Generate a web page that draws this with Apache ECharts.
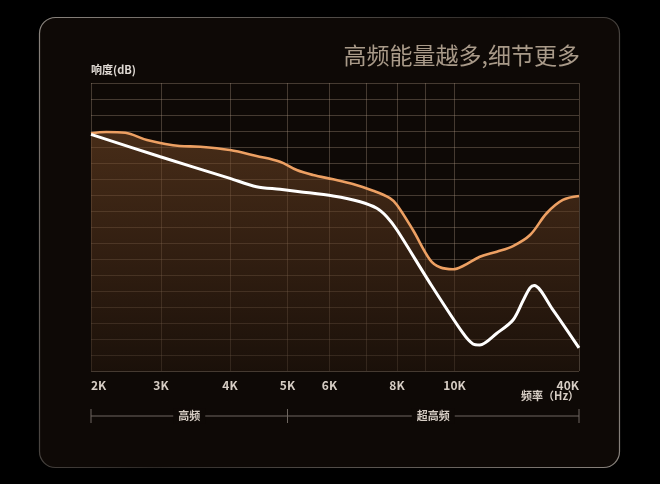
<!DOCTYPE html>
<html>
<head>
<meta charset="utf-8">
<script src="https://cdn.jsdelivr.net/npm/echarts@6/dist/echarts.min.js"></script>
<style>
  html, body { margin: 0; padding: 0; background: #000; }
  #main { width: 660px; height: 484px; }
</style>
</head>
<body>
<div id="main"></div>
<script>
// 频率刻度 (kHz) 与标签
const TICK_KHZ = [2, 3, 4, 5, 6, 7, 8, 9, 10, 40]
const TICK_LABELS = ['2K', '3K', '4K', '5K', '6K', '', '8K', '', '10K', '40K']

// 频段划分
const BAND_EDGES = [2, 5, 40]
const BAND_NAMES = ['高频', '超高频']

// 橙色曲线（kHz, 格数）
const ORANGE_KHZ = [2.0, 2.22, 2.49, 2.8, 3.27, 3.57, 4.0, 4.46, 4.87, 5.22, 5.61, 6.1, 6.64, 7.23, 7.77, 8.0, 8.56, 9.16, 9.5, 9.95, 12.05, 16.1, 20.2, 24.1, 28.2, 32.2, 36.1, 40]
const ORANGE_LEVEL = [14.86, 14.94, 14.89, 14.44, 14.06, 14.02, 13.81, 13.44, 13.08, 12.56, 12.25, 11.98, 11.69, 11.27, 10.81, 10.38, 8.81, 6.94, 6.48, 6.36, 6.56, 7.14, 7.46, 7.81, 8.5, 9.86, 10.69, 10.94]

// 白色曲线（kHz, 格数）
const WHITE_KHZ = [2.0, 2.99, 4.0, 4.46, 4.87, 5.29, 6.1, 6.84, 7.35, 7.67, 8.0, 9.16, 12.05, 14.46, 16.1, 20.2, 24.1, 26.6, 28.2, 29.2, 33.5, 40]
const WHITE_LEVEL = [14.79, 13.39, 12.04, 11.52, 11.36, 11.21, 10.94, 10.58, 10.17, 9.64, 8.81, 5.48, 2.36, 1.69, 1.63, 2.36, 3.19, 4.44, 5.19, 5.34, 3.9, 1.44]

// 横轴的非均匀刻度：每个频率刻度在轴上的位置
const TICK_POS = [0, 70, 139, 196.5, 238.5, 275, 306, 334.5, 363.5, 488]

const toPos = (k) => {
    for (let i = 0; i < TICK_KHZ.length - 1; i++) {
        if (k <= TICK_KHZ[i + 1]) {
            const t = (k - TICK_KHZ[i]) / (TICK_KHZ[i + 1] - TICK_KHZ[i])
            return TICK_POS[i] + t * (TICK_POS[i + 1] - TICK_POS[i])
        }
    }
    return TICK_POS[TICK_POS.length - 1]
}
const labelAt = (pos) => {
    const i = TICK_POS.findIndex(p => Math.abs(p - pos) < 0.01)
    return i >= 0 ? TICK_LABELS[i] : ''
}

const FONT = '"Noto Sans CJK SC", "Noto Sans", sans-serif'
const CARD_BG = '#0e0906'
const gridColor = 'rgba(175,155,135,0.34)'

const chart = echarts.init(document.getElementById('main'))

const option = {
    backgroundColor: '#000',
    animation: false,
    grid: {
        left: 91,
        right: 81,
        top: 83,
        bottom: 113
    },
    xAxis: {
        type: 'value',
        min: 0,
        max: 488,
        axisLine: { show: false },
        axisTick: { show: false, customValues: TICK_POS },
        splitLine: {
            show: true,
            lineStyle: { color: gridColor, width: 1 }
        },
        axisLabel: {
            customValues: TICK_POS,
            formatter: (v) => labelAt(v),
            color: '#d6cdc4',
            fontSize: 12,
            fontWeight: 'bold',
            fontFamily: FONT,
            margin: 8,
            alignMinLabel: 'left',
            alignMaxLabel: 'right'
        }
    },
    yAxis: {
        type: 'value',
        min: 0,
        max: 18,
        interval: 1,
        axisLine: { show: false },
        axisTick: { show: false },
        axisLabel: { show: false },
        splitLine: {
            lineStyle: { color: gridColor, width: 1 }
        }
    },
    series: [
        {
            name: 'orange',
            type: 'line',
            smooth: 0.35,
            showSymbol: false,
            z: 3,
            lineStyle: { color: '#eda063', width: 2.6 },
            areaStyle: {
                color: new echarts.graphic.LinearGradient(0, 0, 0, 1, [
                    { offset: 0, color: 'rgba(116,72,38,0.8)' },
                    { offset: 0.5, color: 'rgba(82,50,27,0.76)' },
                    { offset: 1, color: 'rgba(36,22,12,0.8)' }
                ])
            },
            data: ORANGE_KHZ.map((k, i) => [toPos(k), ORANGE_LEVEL[i]])
        },
        {
            name: 'white',
            type: 'line',
            smooth: 0.3,
            showSymbol: false,
            z: 4,
            lineStyle: { color: '#ffffff', width: 3 },
            data: WHITE_KHZ.map((k, i) => [toPos(k), WHITE_LEVEL[i]])
        }
    ]
}

chart.setOption(option)

// 卡片、标题、频段标注
const px = (k) => chart.convertToPixel({ xAxisIndex: 0 }, toPos(k))
const bandY = 416
const graphics = [
    {
        type: 'rect',
        z: -10,
        shape: { x: 39.5, y: 17.5, width: 580, height: 450, r: 16 },
        style: {
            fill: CARD_BG,
            stroke: new echarts.graphic.LinearGradient(0, 0, 1, 1, [
                { offset: 0, color: '#8a847e' },
                { offset: 0.5, color: '#2e2a27' },
                { offset: 1, color: '#8a847e' }
            ]),
            lineWidth: 1.2
        }
    },
    {
        type: 'text',
        right: 80,
        top: 44,
        style: {
            text: '高频能量越多,细节更多',
            fill: '#a99a89',
            font: '23px ' + FONT
        }
    },
    {
        type: 'text',
        left: 91,
        top: 64,
        style: {
            text: '响度(dB)',
            fill: '#e0dad4',
            font: 'bold 11px ' + FONT
        }
    },
    {
        type: 'text',
        right: 81,
        top: 390,
        style: {
            text: '频率（Hz）',
            fill: '#d6cdc4',
            font: 'bold 11px ' + FONT
        }
    },
    {
        type: 'line',
        shape: { x1: px(BAND_EDGES[0]), y1: bandY, x2: px(BAND_EDGES[2]), y2: bandY },
        style: { stroke: '#6e6660', lineWidth: 1 }
    }
]
BAND_EDGES.forEach((k) => {
    graphics.push({
        type: 'line',
        shape: { x1: px(k), y1: bandY - 7, x2: px(k), y2: bandY + 7 },
        style: { stroke: '#6e6660', lineWidth: 1 }
    })
})
BAND_NAMES.forEach((name, i) => {
    graphics.push({
        type: 'text',
        x: (px(BAND_EDGES[i]) + px(BAND_EDGES[i + 1])) / 2,
        y: bandY,
        style: {
            text: name,
            fill: '#d6cdc4',
            font: 'bold 11px ' + FONT,
            align: 'center',
            verticalAlign: 'middle',
            backgroundColor: CARD_BG,
            padding: [2, 5]
        }
    })
})
chart.setOption({ graphic: graphics })
</script>
</body>
</html>
